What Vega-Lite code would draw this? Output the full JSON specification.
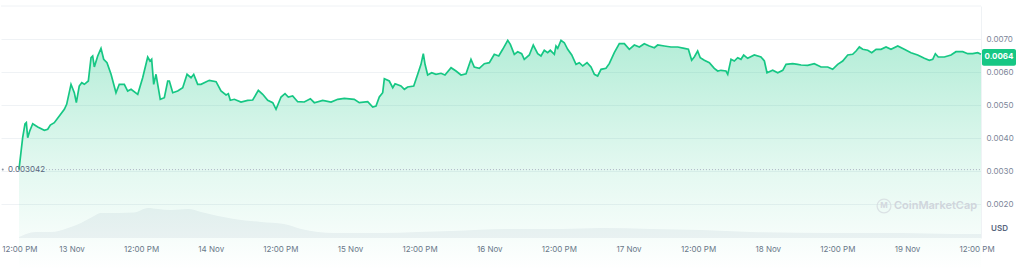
{
  "$schema": "https://vega.github.io/schema/vega-lite/v6.json",
  "width": 980,
  "height": 232,
  "padding": {"left": 0, "top": 5, "right": 0, "bottom": 0},
  "autosize": {"type": "pad"},
  "background": "white",
  "config": {"view": {"stroke": null}, "font": "Inter"},
  "datasets": {
    "price": [
      {"t": "2023-11-12T14:57", "price": 0.003042},
      {"t": "2023-11-12T15:35", "price": 0.004009},
      {"t": "2023-11-12T15:59", "price": 0.004424},
      {"t": "2023-11-12T16:13", "price": 0.004464},
      {"t": "2023-11-12T16:27", "price": 0.004009},
      {"t": "2023-11-12T16:48", "price": 0.004212},
      {"t": "2023-11-12T17:19", "price": 0.004433},
      {"t": "2023-11-12T18:11", "price": 0.004333},
      {"t": "2023-11-12T19:19", "price": 0.004233},
      {"t": "2023-11-12T19:54", "price": 0.004264},
      {"t": "2023-11-12T20:21", "price": 0.004394},
      {"t": "2023-11-12T21:02", "price": 0.004464},
      {"t": "2023-11-12T21:54", "price": 0.004667},
      {"t": "2023-11-12T22:46", "price": 0.00487},
      {"t": "2023-11-12T23:10", "price": 0.005021},
      {"t": "2023-11-12T23:55", "price": 0.005627},
      {"t": "2023-11-13T00:29", "price": 0.005373},
      {"t": "2023-11-13T00:50", "price": 0.00507},
      {"t": "2023-11-13T01:20", "price": 0.005576},
      {"t": "2023-11-13T01:46", "price": 0.005676},
      {"t": "2023-11-13T02:13", "price": 0.005627},
      {"t": "2023-11-13T02:54", "price": 0.005727},
      {"t": "2023-11-13T03:22", "price": 0.006433},
      {"t": "2023-11-13T03:39", "price": 0.006485},
      {"t": "2023-11-13T03:56", "price": 0.006152},
      {"t": "2023-11-13T04:31", "price": 0.006485},
      {"t": "2023-11-13T05:05", "price": 0.006718},
      {"t": "2023-11-13T05:33", "price": 0.006385},
      {"t": "2023-11-13T06:07", "price": 0.006282},
      {"t": "2023-11-13T06:49", "price": 0.00593},
      {"t": "2023-11-13T07:40", "price": 0.005373},
      {"t": "2023-11-13T08:14", "price": 0.005627},
      {"t": "2023-11-13T09:06", "price": 0.005627},
      {"t": "2023-11-13T09:41", "price": 0.005424},
      {"t": "2023-11-13T10:16", "price": 0.005476},
      {"t": "2023-11-13T11:25", "price": 0.005324},
      {"t": "2023-11-13T12:16", "price": 0.005827},
      {"t": "2023-11-13T13:08", "price": 0.006455},
      {"t": "2023-11-13T13:32", "price": 0.006333},
      {"t": "2023-11-13T13:49", "price": 0.006385},
      {"t": "2023-11-13T14:10", "price": 0.005627},
      {"t": "2023-11-13T14:34", "price": 0.00593},
      {"t": "2023-11-13T15:18", "price": 0.005173},
      {"t": "2023-11-13T16:00", "price": 0.005221},
      {"t": "2023-11-13T16:35", "price": 0.005727},
      {"t": "2023-11-13T16:52", "price": 0.005727},
      {"t": "2023-11-13T17:27", "price": 0.005373},
      {"t": "2023-11-13T18:18", "price": 0.005424},
      {"t": "2023-11-13T19:10", "price": 0.005524},
      {"t": "2023-11-13T19:55", "price": 0.00593},
      {"t": "2023-11-13T20:36", "price": 0.005827},
      {"t": "2023-11-13T21:04", "price": 0.00593},
      {"t": "2023-11-13T21:45", "price": 0.005627},
      {"t": "2023-11-13T22:19", "price": 0.005627},
      {"t": "2023-11-13T23:45", "price": 0.005748},
      {"t": "2023-11-14T00:55", "price": 0.005706},
      {"t": "2023-11-14T01:46", "price": 0.005424},
      {"t": "2023-11-14T02:38", "price": 0.005303},
      {"t": "2023-11-14T03:02", "price": 0.005342},
      {"t": "2023-11-14T03:22", "price": 0.005142},
      {"t": "2023-11-14T04:04", "price": 0.005173},
      {"t": "2023-11-14T05:13", "price": 0.005091},
      {"t": "2023-11-14T06:22", "price": 0.005142},
      {"t": "2023-11-14T07:14", "price": 0.005152},
      {"t": "2023-11-14T08:12", "price": 0.005445},
      {"t": "2023-11-14T08:57", "price": 0.005324},
      {"t": "2023-11-14T09:49", "price": 0.005142},
      {"t": "2023-11-14T10:41", "price": 0.00507},
      {"t": "2023-11-14T11:15", "price": 0.00487},
      {"t": "2023-11-14T12:07", "price": 0.005242},
      {"t": "2023-11-14T12:48", "price": 0.005342},
      {"t": "2023-11-14T13:22", "price": 0.005242},
      {"t": "2023-11-14T14:07", "price": 0.005273},
      {"t": "2023-11-14T14:59", "price": 0.0051},
      {"t": "2023-11-14T16:07", "price": 0.005091},
      {"t": "2023-11-14T17:10", "price": 0.005191},
      {"t": "2023-11-14T17:51", "price": 0.00507},
      {"t": "2023-11-14T19:18", "price": 0.005142},
      {"t": "2023-11-14T20:44", "price": 0.005091},
      {"t": "2023-11-14T21:53", "price": 0.005173},
      {"t": "2023-11-14T23:01", "price": 0.005203},
      {"t": "2023-11-15T00:44", "price": 0.005173},
      {"t": "2023-11-15T01:36", "price": 0.00507},
      {"t": "2023-11-15T03:03", "price": 0.0051},
      {"t": "2023-11-15T03:55", "price": 0.004939},
      {"t": "2023-11-15T04:29", "price": 0.00497},
      {"t": "2023-11-15T05:03", "price": 0.005242},
      {"t": "2023-11-15T05:38", "price": 0.005373},
      {"t": "2023-11-15T05:55", "price": 0.005797},
      {"t": "2023-11-15T06:46", "price": 0.005727},
      {"t": "2023-11-15T07:22", "price": 0.005524},
      {"t": "2023-11-15T07:46", "price": 0.005645},
      {"t": "2023-11-15T08:47", "price": 0.005576},
      {"t": "2023-11-15T09:22", "price": 0.005476},
      {"t": "2023-11-15T09:56", "price": 0.005545},
      {"t": "2023-11-15T10:59", "price": 0.005576},
      {"t": "2023-11-15T11:40", "price": 0.00593},
      {"t": "2023-11-15T12:14", "price": 0.006233},
      {"t": "2023-11-15T12:38", "price": 0.006555},
      {"t": "2023-11-15T12:56", "price": 0.006233},
      {"t": "2023-11-15T13:23", "price": 0.005909},
      {"t": "2023-11-15T14:05", "price": 0.005979},
      {"t": "2023-11-15T14:49", "price": 0.00593},
      {"t": "2023-11-15T15:41", "price": 0.005961},
      {"t": "2023-11-15T16:22", "price": 0.005909},
      {"t": "2023-11-15T17:25", "price": 0.00613},
      {"t": "2023-11-15T18:16", "price": 0.00603},
      {"t": "2023-11-15T19:08", "price": 0.005909},
      {"t": "2023-11-15T20:00", "price": 0.005948},
      {"t": "2023-11-15T20:51", "price": 0.006385},
      {"t": "2023-11-15T21:25", "price": 0.006152},
      {"t": "2023-11-15T22:17", "price": 0.006112},
      {"t": "2023-11-15T23:09", "price": 0.006252},
      {"t": "2023-11-16T00:01", "price": 0.006282},
      {"t": "2023-11-16T00:52", "price": 0.006536},
      {"t": "2023-11-16T01:38", "price": 0.006485},
      {"t": "2023-11-16T02:19", "price": 0.006688},
      {"t": "2023-11-16T03:11", "price": 0.006961},
      {"t": "2023-11-16T03:38", "price": 0.006839},
      {"t": "2023-11-16T04:19", "price": 0.006536},
      {"t": "2023-11-16T04:54", "price": 0.006615},
      {"t": "2023-11-16T05:35", "price": 0.006555},
      {"t": "2023-11-16T06:02", "price": 0.006385},
      {"t": "2023-11-16T06:54", "price": 0.006515},
      {"t": "2023-11-16T07:35", "price": 0.006818},
      {"t": "2023-11-16T08:21", "price": 0.006555},
      {"t": "2023-11-16T08:55", "price": 0.006485},
      {"t": "2023-11-16T09:29", "price": 0.006658},
      {"t": "2023-11-16T10:04", "price": 0.006585},
      {"t": "2023-11-16T10:31", "price": 0.006658},
      {"t": "2023-11-16T11:13", "price": 0.006536},
      {"t": "2023-11-16T11:30", "price": 0.006788},
      {"t": "2023-11-16T11:48", "price": 0.006718},
      {"t": "2023-11-16T12:22", "price": 0.006961},
      {"t": "2023-11-16T12:56", "price": 0.006888},
      {"t": "2023-11-16T13:31", "price": 0.006688},
      {"t": "2023-11-16T14:13", "price": 0.006515},
      {"t": "2023-11-16T14:57", "price": 0.006233},
      {"t": "2023-11-16T15:31", "price": 0.006282},
      {"t": "2023-11-16T16:07", "price": 0.006182},
      {"t": "2023-11-16T16:51", "price": 0.006282},
      {"t": "2023-11-16T17:32", "price": 0.006152},
      {"t": "2023-11-16T18:07", "price": 0.00593},
      {"t": "2023-11-16T18:41", "price": 0.005879},
      {"t": "2023-11-16T19:16", "price": 0.006082},
      {"t": "2023-11-16T20:07", "price": 0.006112},
      {"t": "2023-11-16T20:41", "price": 0.006252},
      {"t": "2023-11-16T21:33", "price": 0.006585},
      {"t": "2023-11-16T22:25", "price": 0.006858},
      {"t": "2023-11-16T23:17", "price": 0.006858},
      {"t": "2023-11-17T00:08", "price": 0.006688},
      {"t": "2023-11-17T01:00", "price": 0.006818},
      {"t": "2023-11-17T01:52", "price": 0.006758},
      {"t": "2023-11-17T02:43", "price": 0.006858},
      {"t": "2023-11-17T03:35", "price": 0.006788},
      {"t": "2023-11-17T04:27", "price": 0.006736},
      {"t": "2023-11-17T05:02", "price": 0.006818},
      {"t": "2023-11-17T06:10", "price": 0.006788},
      {"t": "2023-11-17T07:19", "price": 0.006758},
      {"t": "2023-11-17T08:29", "price": 0.006758},
      {"t": "2023-11-17T09:37", "price": 0.006718},
      {"t": "2023-11-17T10:19", "price": 0.006688},
      {"t": "2023-11-17T10:53", "price": 0.006355},
      {"t": "2023-11-17T11:20", "price": 0.006455},
      {"t": "2023-11-17T11:55", "price": 0.006636},
      {"t": "2023-11-17T12:22", "price": 0.006433},
      {"t": "2023-11-17T13:04", "price": 0.006355},
      {"t": "2023-11-17T13:56", "price": 0.006282},
      {"t": "2023-11-17T14:47", "price": 0.006112},
      {"t": "2023-11-17T15:22", "price": 0.00603},
      {"t": "2023-11-17T15:56", "price": 0.006052},
      {"t": "2023-11-17T16:48", "price": 0.00603},
      {"t": "2023-11-17T17:06", "price": 0.00593},
      {"t": "2023-11-17T17:40", "price": 0.006385},
      {"t": "2023-11-17T18:14", "price": 0.006333},
      {"t": "2023-11-17T18:49", "price": 0.006433},
      {"t": "2023-11-17T19:23", "price": 0.006385},
      {"t": "2023-11-17T19:51", "price": 0.006515},
      {"t": "2023-11-17T20:32", "price": 0.006415},
      {"t": "2023-11-17T21:41", "price": 0.006515},
      {"t": "2023-11-17T22:50", "price": 0.006455},
      {"t": "2023-11-17T23:25", "price": 0.006333},
      {"t": "2023-11-17T23:52", "price": 0.005979},
      {"t": "2023-11-18T00:51", "price": 0.006052},
      {"t": "2023-11-18T01:43", "price": 0.005979},
      {"t": "2023-11-18T02:35", "price": 0.006052},
      {"t": "2023-11-18T03:09", "price": 0.006233},
      {"t": "2023-11-18T04:18", "price": 0.006252},
      {"t": "2023-11-18T05:10", "price": 0.006233},
      {"t": "2023-11-18T05:44", "price": 0.006212},
      {"t": "2023-11-18T06:53", "price": 0.006203},
      {"t": "2023-11-18T08:01", "price": 0.006252},
      {"t": "2023-11-18T09:11", "price": 0.006152},
      {"t": "2023-11-18T10:20", "price": 0.006152},
      {"t": "2023-11-18T11:11", "price": 0.006082},
      {"t": "2023-11-18T12:03", "price": 0.006233},
      {"t": "2023-11-18T12:55", "price": 0.006333},
      {"t": "2023-11-18T13:47", "price": 0.006515},
      {"t": "2023-11-18T14:38", "price": 0.006536},
      {"t": "2023-11-18T15:13", "price": 0.006636},
      {"t": "2023-11-18T15:47", "price": 0.006758},
      {"t": "2023-11-18T16:22", "price": 0.006688},
      {"t": "2023-11-18T17:14", "price": 0.006658},
      {"t": "2023-11-18T17:55", "price": 0.006585},
      {"t": "2023-11-18T18:40", "price": 0.006688},
      {"t": "2023-11-18T19:31", "price": 0.006688},
      {"t": "2023-11-18T20:23", "price": 0.006758},
      {"t": "2023-11-18T21:14", "price": 0.006688},
      {"t": "2023-11-18T22:24", "price": 0.006788},
      {"t": "2023-11-18T23:32", "price": 0.006688},
      {"t": "2023-11-19T00:41", "price": 0.006585},
      {"t": "2023-11-19T01:50", "price": 0.006515},
      {"t": "2023-11-19T02:59", "price": 0.006415},
      {"t": "2023-11-19T03:50", "price": 0.006355},
      {"t": "2023-11-19T04:26", "price": 0.006385},
      {"t": "2023-11-19T04:53", "price": 0.006555},
      {"t": "2023-11-19T05:23", "price": 0.006455},
      {"t": "2023-11-19T06:26", "price": 0.006455},
      {"t": "2023-11-19T07:35", "price": 0.006515},
      {"t": "2023-11-19T08:26", "price": 0.006615},
      {"t": "2023-11-19T09:36", "price": 0.006615},
      {"t": "2023-11-19T10:28", "price": 0.006555},
      {"t": "2023-11-19T11:19", "price": 0.006555},
      {"t": "2023-11-19T12:11", "price": 0.006585},
      {"t": "2023-11-19T12:45", "price": 0.006536}
    ],
    "volume": [
      {"t": "2023-11-12T14:57", "volume": 10000},
      {"t": "2023-11-12T16:10", "volume": 40000},
      {"t": "2023-11-12T17:53", "volume": 60000},
      {"t": "2023-11-12T20:28", "volume": 60000},
      {"t": "2023-11-12T23:24", "volume": 100000},
      {"t": "2023-11-13T01:38", "volume": 150000},
      {"t": "2023-11-13T03:53", "volume": 220000},
      {"t": "2023-11-13T05:05", "volume": 250000},
      {"t": "2023-11-13T08:01", "volume": 250000},
      {"t": "2023-11-13T10:46", "volume": 255000},
      {"t": "2023-11-13T13:11", "volume": 300000},
      {"t": "2023-11-13T14:55", "volume": 290000},
      {"t": "2023-11-13T17:09", "volume": 280000},
      {"t": "2023-11-13T20:05", "volume": 290000},
      {"t": "2023-11-13T22:19", "volume": 260000},
      {"t": "2023-11-14T01:15", "volume": 220000},
      {"t": "2023-11-14T04:01", "volume": 190000},
      {"t": "2023-11-14T08:40", "volume": 160000},
      {"t": "2023-11-14T12:38", "volume": 140000},
      {"t": "2023-11-14T15:34", "volume": 90000},
      {"t": "2023-11-14T18:29", "volume": 60000},
      {"t": "2023-11-14T21:14", "volume": 50000},
      {"t": "2023-11-15T05:20", "volume": 50000},
      {"t": "2023-11-15T11:43", "volume": 60000},
      {"t": "2023-11-15T17:25", "volume": 70000},
      {"t": "2023-11-16T03:14", "volume": 90000},
      {"t": "2023-11-16T12:22", "volume": 90000},
      {"t": "2023-11-16T19:16", "volume": 100000},
      {"t": "2023-11-17T03:53", "volume": 90000},
      {"t": "2023-11-17T12:30", "volume": 80000},
      {"t": "2023-11-17T21:07", "volume": 60000},
      {"t": "2023-11-18T10:44", "volume": 50000},
      {"t": "2023-11-18T22:58", "volume": 50000},
      {"t": "2023-11-19T08:06", "volume": 40000},
      {"t": "2023-11-19T12:45", "volume": 40000}
    ]
  },
  "layer": [
    {
      "data": {"name": "volume"},
      "mark": {"type": "area", "color": "#f1f3f6", "interpolate": "monotone"},
      "encoding": {
        "x": {
          "field": "t",
          "type": "temporal",
          "scale": {"domain": [{"year": 2023, "month": 11, "date": 12, "hours": 11, "minutes": 51}, {"year": 2023, "month": 11, "date": 19, "hours": 12, "minutes": 45}]},
          "axis": {
            "title": null,
            "tickCount": 15,
            "labelExpr": "hours(datum.value) == 12 ? '12:00 PM' : timeFormat(datum.value, '%-d %b')",
            "grid": false,
            "domain": false,
            "ticks": false,
            "labelFlush": 2,
            "labelOverlap": false,
            "labelPadding": 7,
            "labelFontSize": 8,
            "labelColor": "#6b7689",
            "labelFont": "Inter"
          }
        },
        "y": {
          "field": "volume",
          "type": "quantitative",
          "scale": {"domain": [0, 2320000], "nice": false},
          "axis": null
        }
      }
    },
    {
      "layer": [
        {
          "data": {"name": "price"},
          "mark": {
            "type": "area",
            "interpolate": "linear",
            "color": {
              "gradient": "linear",
              "x1": 1, "y1": 1, "x2": 1, "y2": 0,
              "stops": [
                {"offset": 0, "color": "rgba(22,199,132,0.0)"},
                {"offset": 0.45, "color": "rgba(22,199,132,0.12)"},
                {"offset": 1, "color": "rgba(22,199,132,0.32)"}
              ]
            }
          },
          "encoding": {
            "x": {"field": "t", "type": "temporal", "scale": {"domain": [{"year": 2023, "month": 11, "date": 12, "hours": 11, "minutes": 51}, {"year": 2023, "month": 11, "date": 19, "hours": 12, "minutes": 45}]}},
            "y": {
              "field": "price",
              "type": "quantitative",
              "scale": {"domain": [0.00097, 0.008], "nice": false, "zero": false},
              "axis": {
                "orient": "right",
                "values": [0.002, 0.003, 0.004, 0.005, 0.006, 0.007],
                "format": ".4f",
                "labelOverlap": false,
                "grid": true,
                "gridColor": "#eff2f5",
                "gridWidth": 1,
                "domain": true,
                "domainColor": "#eff2f5",
                "ticks": false,
                "labelPadding": 5,
                "labelFontSize": 8,
                "labelColor": "#7c8699",
                "labelFont": "Inter",
                "title": "USD",
                "titleAngle": 0,
                "titleX": 18,
                "titleY": 222,
                "titleAlign": "center",
                "titleBaseline": "middle",
                "titleFontSize": 8,
                "titleFontWeight": 600,
                "titleColor": "#58667e",
                "titleFont": "Inter"
              }
            }
          }
        },
        {
          "data": {"values": [{}]},
          "mark": {"type": "rule", "color": "#eff2f5", "strokeWidth": 1},
          "encoding": {
            "y": {"datum": 0.008, "type": "quantitative"}
          }
        },
        {
          "data": {"values": [{}]},
          "mark": {"type": "rule", "color": "#aab3c3", "strokeDash": [1, 2], "strokeWidth": 1},
          "encoding": {
            "x": {"datum": {"year": 2023, "month": 11, "date": 12, "hours": 19, "minutes": 36}, "type": "temporal", "scale": {"domain": [{"year": 2023, "month": 11, "date": 12, "hours": 11, "minutes": 51}, {"year": 2023, "month": 11, "date": 19, "hours": 12, "minutes": 45}]}},
            "x2": {"datum": {"year": 2023, "month": 11, "date": 19, "hours": 12, "minutes": 45}},
            "y": {"datum": 0.003042, "type": "quantitative"}
          }
        },
        {
          "data": {"name": "price"},
          "mark": {"type": "line", "color": "#16c784", "strokeWidth": 1.7, "interpolate": "linear"},
          "encoding": {
            "x": {"field": "t", "type": "temporal", "scale": {"domain": [{"year": 2023, "month": 11, "date": 12, "hours": 11, "minutes": 51}, {"year": 2023, "month": 11, "date": 19, "hours": 12, "minutes": 45}]}},
            "y": {
              "field": "price",
              "type": "quantitative",
              "scale": {"domain": [0.00097, 0.008], "nice": false, "zero": false},
              "axis": {
                "orient": "right",
                "values": [0.002, 0.003, 0.004, 0.005, 0.006, 0.007],
                "format": ".4f",
                "labelOverlap": false,
                "grid": true,
                "gridColor": "#eff2f5",
                "gridWidth": 1,
                "domain": true,
                "domainColor": "#eff2f5",
                "ticks": false,
                "labelPadding": 5,
                "labelFontSize": 8,
                "labelColor": "#7c8699",
                "labelFont": "Inter",
                "title": "USD",
                "titleAngle": 0,
                "titleX": 18,
                "titleY": 222,
                "titleAlign": "center",
                "titleBaseline": "middle",
                "titleFontSize": 8,
                "titleFontWeight": 600,
                "titleColor": "#58667e",
                "titleFont": "Inter"
              }
            }
          }
        },
        {
          "data": {"values": [{}]},
          "mark": {"type": "point", "shape": "circle", "filled": true, "size": 4, "color": "#58667e"},
          "encoding": {
            "x": {"datum": {"year": 2023, "month": 11, "date": 12, "hours": 12, "minutes": 9}, "type": "temporal", "scale": {"domain": [{"year": 2023, "month": 11, "date": 12, "hours": 11, "minutes": 51}, {"year": 2023, "month": 11, "date": 19, "hours": 12, "minutes": 45}]}},
            "y": {"datum": 0.003042, "type": "quantitative"}
          }
        },
        {
          "data": {"values": [{}]},
          "mark": {"type": "text", "text": "0.003042", "align": "left", "baseline": "middle", "fontSize": 8, "color": "#58667e", "font": "Inter"},
          "encoding": {
            "x": {"datum": {"year": 2023, "month": 11, "date": 12, "hours": 13, "minutes": 3}, "type": "temporal", "scale": {"domain": [{"year": 2023, "month": 11, "date": 12, "hours": 11, "minutes": 51}, {"year": 2023, "month": 11, "date": 19, "hours": 12, "minutes": 45}]}},
            "y": {"datum": 0.003042, "type": "quantitative"}
          }
        },
        {
          "data": {"values": [{}]},
          "mark": {"type": "point", "shape": "circle", "filled": false, "size": 190, "strokeWidth": 1.3, "color": "#d3d8de"},
          "encoding": {
            "x": {"datum": {"year": 2023, "month": 11, "date": 18, "hours": 20, "minutes": 2}, "type": "temporal", "scale": {"domain": [{"year": 2023, "month": 11, "date": 12, "hours": 11, "minutes": 51}, {"year": 2023, "month": 11, "date": 19, "hours": 12, "minutes": 45}]}},
            "y": {"datum": 0.001939, "type": "quantitative"}
          }
        },
        {
          "data": {"values": [{}]},
          "mark": {"type": "text", "text": "M", "align": "center", "baseline": "middle", "fontSize": 8, "fontWeight": 700, "color": "#d3d8de", "font": "Inter"},
          "encoding": {
            "x": {"datum": {"year": 2023, "month": 11, "date": 18, "hours": 20, "minutes": 2}, "type": "temporal", "scale": {"domain": [{"year": 2023, "month": 11, "date": 12, "hours": 11, "minutes": 51}, {"year": 2023, "month": 11, "date": 19, "hours": 12, "minutes": 45}]}},
            "y": {"datum": 0.001939, "type": "quantitative"}
          }
        },
        {
          "data": {"values": [{}]},
          "mark": {"type": "text", "text": "CoinMarketCap", "align": "left", "baseline": "middle", "fontSize": 11, "fontWeight": 600, "color": "#d0d5dc", "font": "Inter"},
          "encoding": {
            "x": {"datum": {"year": 2023, "month": 11, "date": 18, "hours": 21, "minutes": 45}, "type": "temporal", "scale": {"domain": [{"year": 2023, "month": 11, "date": 12, "hours": 11, "minutes": 51}, {"year": 2023, "month": 11, "date": 19, "hours": 12, "minutes": 45}]}},
            "y": {"datum": 0.001939, "type": "quantitative"}
          }
        },
        {
          "data": {"values": [{}]},
          "mark": {"type": "rect", "color": "#16c784", "cornerRadius": 2},
          "encoding": {
            "x": {"datum": {"year": 2023, "month": 11, "date": 19, "hours": 12, "minutes": 55}, "type": "temporal", "scale": {"domain": [{"year": 2023, "month": 11, "date": 12, "hours": 11, "minutes": 51}, {"year": 2023, "month": 11, "date": 19, "hours": 12, "minutes": 45}]}},
            "x2": {"datum": {"year": 2023, "month": 11, "date": 19, "hours": 18, "minutes": 47}},
            "y": {"datum": 0.0067, "type": "quantitative"},
            "y2": {"datum": 0.00619}
          }
        },
        {
          "data": {"values": [{}]},
          "mark": {"type": "text", "text": "0.0064", "align": "center", "baseline": "middle", "fontSize": 8, "fontWeight": 700, "color": "white", "font": "Inter"},
          "encoding": {
            "x": {"datum": {"year": 2023, "month": 11, "date": 19, "hours": 15, "minutes": 51}, "type": "temporal", "scale": {"domain": [{"year": 2023, "month": 11, "date": 12, "hours": 11, "minutes": 51}, {"year": 2023, "month": 11, "date": 19, "hours": 12, "minutes": 45}]}},
            "y": {"datum": 0.006445, "type": "quantitative"}
          }
        }
      ]
    }
  ],
  "resolve": {"scale": {"y": "independent"}}
}
